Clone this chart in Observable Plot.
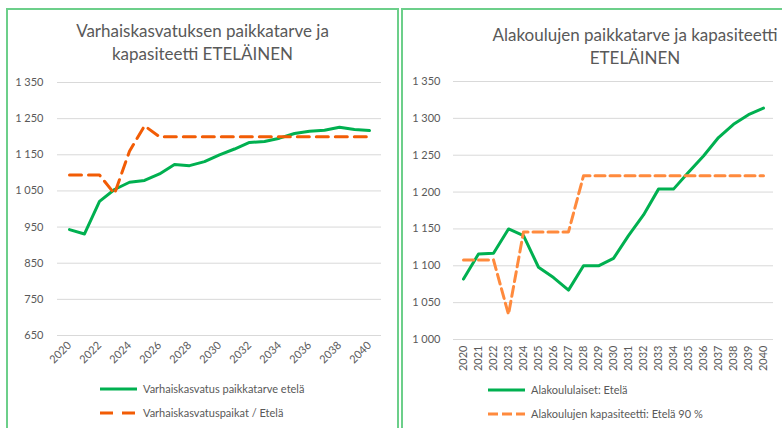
<!DOCTYPE html>
<html>
<head>
<meta charset="utf-8">
<script src="https://cdn.jsdelivr.net/npm/d3@7"></script>
<script src="https://cdn.jsdelivr.net/npm/@observablehq/plot@0.6"></script>
<style>
  html, body { margin: 0; padding: 0; background: #fff; }
  body { width: 782px; height: 428px; overflow: hidden; position: relative; font-family: Lato, "Open Sans", sans-serif; }
  .frame { position: absolute; border: 2px solid #6ccf8a; box-sizing: border-box; z-index: 5; pointer-events: none; }
  .title { position: absolute; color: #595959; font-size: 17px; text-align: center; line-height: 23px; white-space: nowrap; z-index: 3; }
  .chart { position: absolute; top: 0; z-index: 1; }
  .legend { position: absolute; color: #595959; font-size: 11px; z-index: 3; white-space: nowrap; }
  .legend div { position: absolute; display: flex; align-items: center; }
  .legend svg { margin-right: 6px; }
</style>
</head>
<body>
<div class="frame" style="left:6px; top:8px; width:393px; height:440px;"></div>
<div class="frame" style="left:401px; top:8px; width:420px; height:440px;"></div>

<div class="title" id="t1" style="left:7px; width:391px; top:19px;"></div>
<div class="title" id="t2" style="left:440px; width:390px; top:23px;"></div>

<div class="chart" id="c1" style="left:0px;"></div>
<div class="chart" id="c2" style="left:400px;"></div>

<div class="legend" id="l1"></div>
<div class="legend" id="l2"></div>

<script>
// ---------- data ----------
const years = ["2020","2021","2022","2023","2024","2025","2026","2027","2028","2029","2030",
               "2031","2032","2033","2034","2035","2036","2037","2038","2039","2040"];

// Left chart: Varhaiskasvatus (early childhood education)
const title1 = ["Varhaiskasvatuksen paikkatarve ja", "kapasiteetti ETELÄINEN"];
const seriesNames1 = ["Varhaiskasvatus paikkatarve etelä", "Varhaiskasvatuspaikat / Etelä"];
const vkNeed = [943, 931, 1021, 1054, 1074, 1079, 1097, 1123, 1120, 1131, 1150,
                1166, 1184, 1187, 1196, 1209, 1215, 1218, 1226, 1220, 1217];
const vkPlaces = [1094, 1094, 1094, 1042, 1160, 1230, 1200, 1200, 1200, 1200, 1200,
                  1200, 1200, 1200, 1200, 1200, 1200, 1200, 1200, 1200, 1200];
const yTicks1 = [650, 750, 850, 950, 1050, 1150, 1250, 1350];
const xTicks1 = ["2020","2022","2024","2026","2028","2030","2032","2034","2036","2038","2040"];

// Right chart: Alakoulut (primary schools)
const title2 = ["Alakoulujen paikkatarve ja kapasiteetti", "ETELÄINEN"];
const seriesNames2 = ["Alakoululaiset: Etelä", "Alakoulujen  kapasiteetti: Etelä 90 %"];
const akPupils = [1082, 1116, 1117, 1150, 1141, 1098, 1084, 1067, 1100, 1100, 1110,
                  1141, 1169, 1204, 1204, 1227, 1249, 1274, 1292, 1305, 1314];
const akCapacity = [1108, 1108, 1108, 1034, 1146, 1146, 1146, 1146, 1222, 1222, 1222,
                    1222, 1222, 1222, 1222, 1222, 1222, 1222, 1222, 1222, 1222];
const yTicks2 = [1000, 1050, 1100, 1150, 1200, 1250, 1300, 1350];
const xTicks2 = years;

// ---------- helpers ----------
const fmt = d => d >= 1000 ? `${Math.floor(d / 1000)} ${String(d % 1000).padStart(3, "0")}` : String(d);
const toRows = vals => years.map((y, i) => ({year: y, value: vals[i]}));

const GREEN = "#00b050";
const ORANGE1 = "#f25c05";
const ORANGE2 = "#ff8a3d";
const GRID = "#d9d9d9";
const TEXT = "#595959";

function titleHTML(el, lines) {
  document.getElementById(el).innerHTML = lines.map(l => `<div>${l}</div>`).join("");
}
titleHTML("t1", title1);
titleHTML("t2", title2);

// ---------- left chart ----------
const chart1 = Plot.plot({
  width: 400, height: 380,
  marginLeft: 57, marginRight: 19, marginTop: 82, marginBottom: 45,
  style: {background: "transparent", fontFamily: "Lato, sans-serif", fontSize: "11px", color: TEXT},
  x: {type: "point", domain: years, padding: 0.5, axis: null},
  y: {domain: [650, 1350], axis: null},
  marks: [
    Plot.gridY(yTicks1, {stroke: GRID, strokeOpacity: 1, strokeWidth: 1}),
    Plot.axisY(yTicks1, {tickSize: 0, tickPadding: 14, tickFormat: fmt, fill: TEXT, fontSize: 11, label: null}),
    Plot.axisX(xTicks1, {tickSize: 0, tickRotate: -45, tickPadding: 8, fill: TEXT, fontSize: 11, label: null}),
    Plot.line(toRows(vkNeed), {x: "year", y: "value", stroke: GREEN, strokeWidth: 3, strokeLinejoin: "round"}),
    Plot.line(toRows(vkPlaces), {x: "year", y: "value", stroke: ORANGE1, strokeWidth: 3, strokeDasharray: "12,7", strokeLinejoin: "round"})
  ]
});
document.getElementById("c1").appendChild(chart1);

// ---------- right chart ----------
const chart2 = Plot.plot({
  width: 382, height: 380,
  marginLeft: 53, marginRight: 9, marginTop: 81, marginBottom: 41,
  style: {background: "transparent", fontFamily: "Lato, sans-serif", fontSize: "11px", color: TEXT},
  x: {type: "point", domain: years, padding: 0.5, axis: null},
  y: {domain: [1000, 1350], axis: null},
  marks: [
    Plot.gridY(yTicks2, {stroke: GRID, strokeOpacity: 1, strokeWidth: 1}),
    Plot.axisY(yTicks2, {tickSize: 0, tickPadding: 13, tickFormat: fmt, fill: TEXT, fontSize: 11, label: null}),
    Plot.axisX(xTicks2, {tickSize: 0, tickRotate: -90, tickPadding: 6, fill: TEXT, fontSize: 11, label: null}),
    Plot.line(toRows(akPupils), {x: "year", y: "value", stroke: GREEN, strokeWidth: 3, strokeLinejoin: "round"}),
    Plot.line(toRows(akCapacity), {x: "year", y: "value", stroke: ORANGE2, strokeWidth: 3, strokeDasharray: "10,5", strokeLinejoin: "round"})
  ]
});
document.getElementById("c2").appendChild(chart2);

// ---------- legends ----------
function swatch(color, dash) {
  return `<svg width="37" height="6"><line x1="0" x2="37" y1="3" y2="3" stroke="${color}" stroke-width="3" ${dash ? `stroke-dasharray="${dash}"` : ""}/></svg>`;
}
function legend(el, left, top, items) {
  const box = document.getElementById(el);
  box.style.left = left + "px";
  box.style.top = top + "px";
  box.innerHTML = items.map((it, i) =>
    `<div style="left:0; top:${i * 24}px;">${swatch(it.color, it.dash)}<span>${it.name}</span></div>`).join("");
}
legend("l1", 100, 382, [
  {name: seriesNames1[0], color: GREEN},
  {name: seriesNames1[1], color: ORANGE1, dash: "13,9"}
]);
legend("l2", 488, 383, [
  {name: seriesNames2[0], color: GREEN},
  {name: seriesNames2[1], color: ORANGE2, dash: "10,4"}
]);
</script>
</body>
</html>
